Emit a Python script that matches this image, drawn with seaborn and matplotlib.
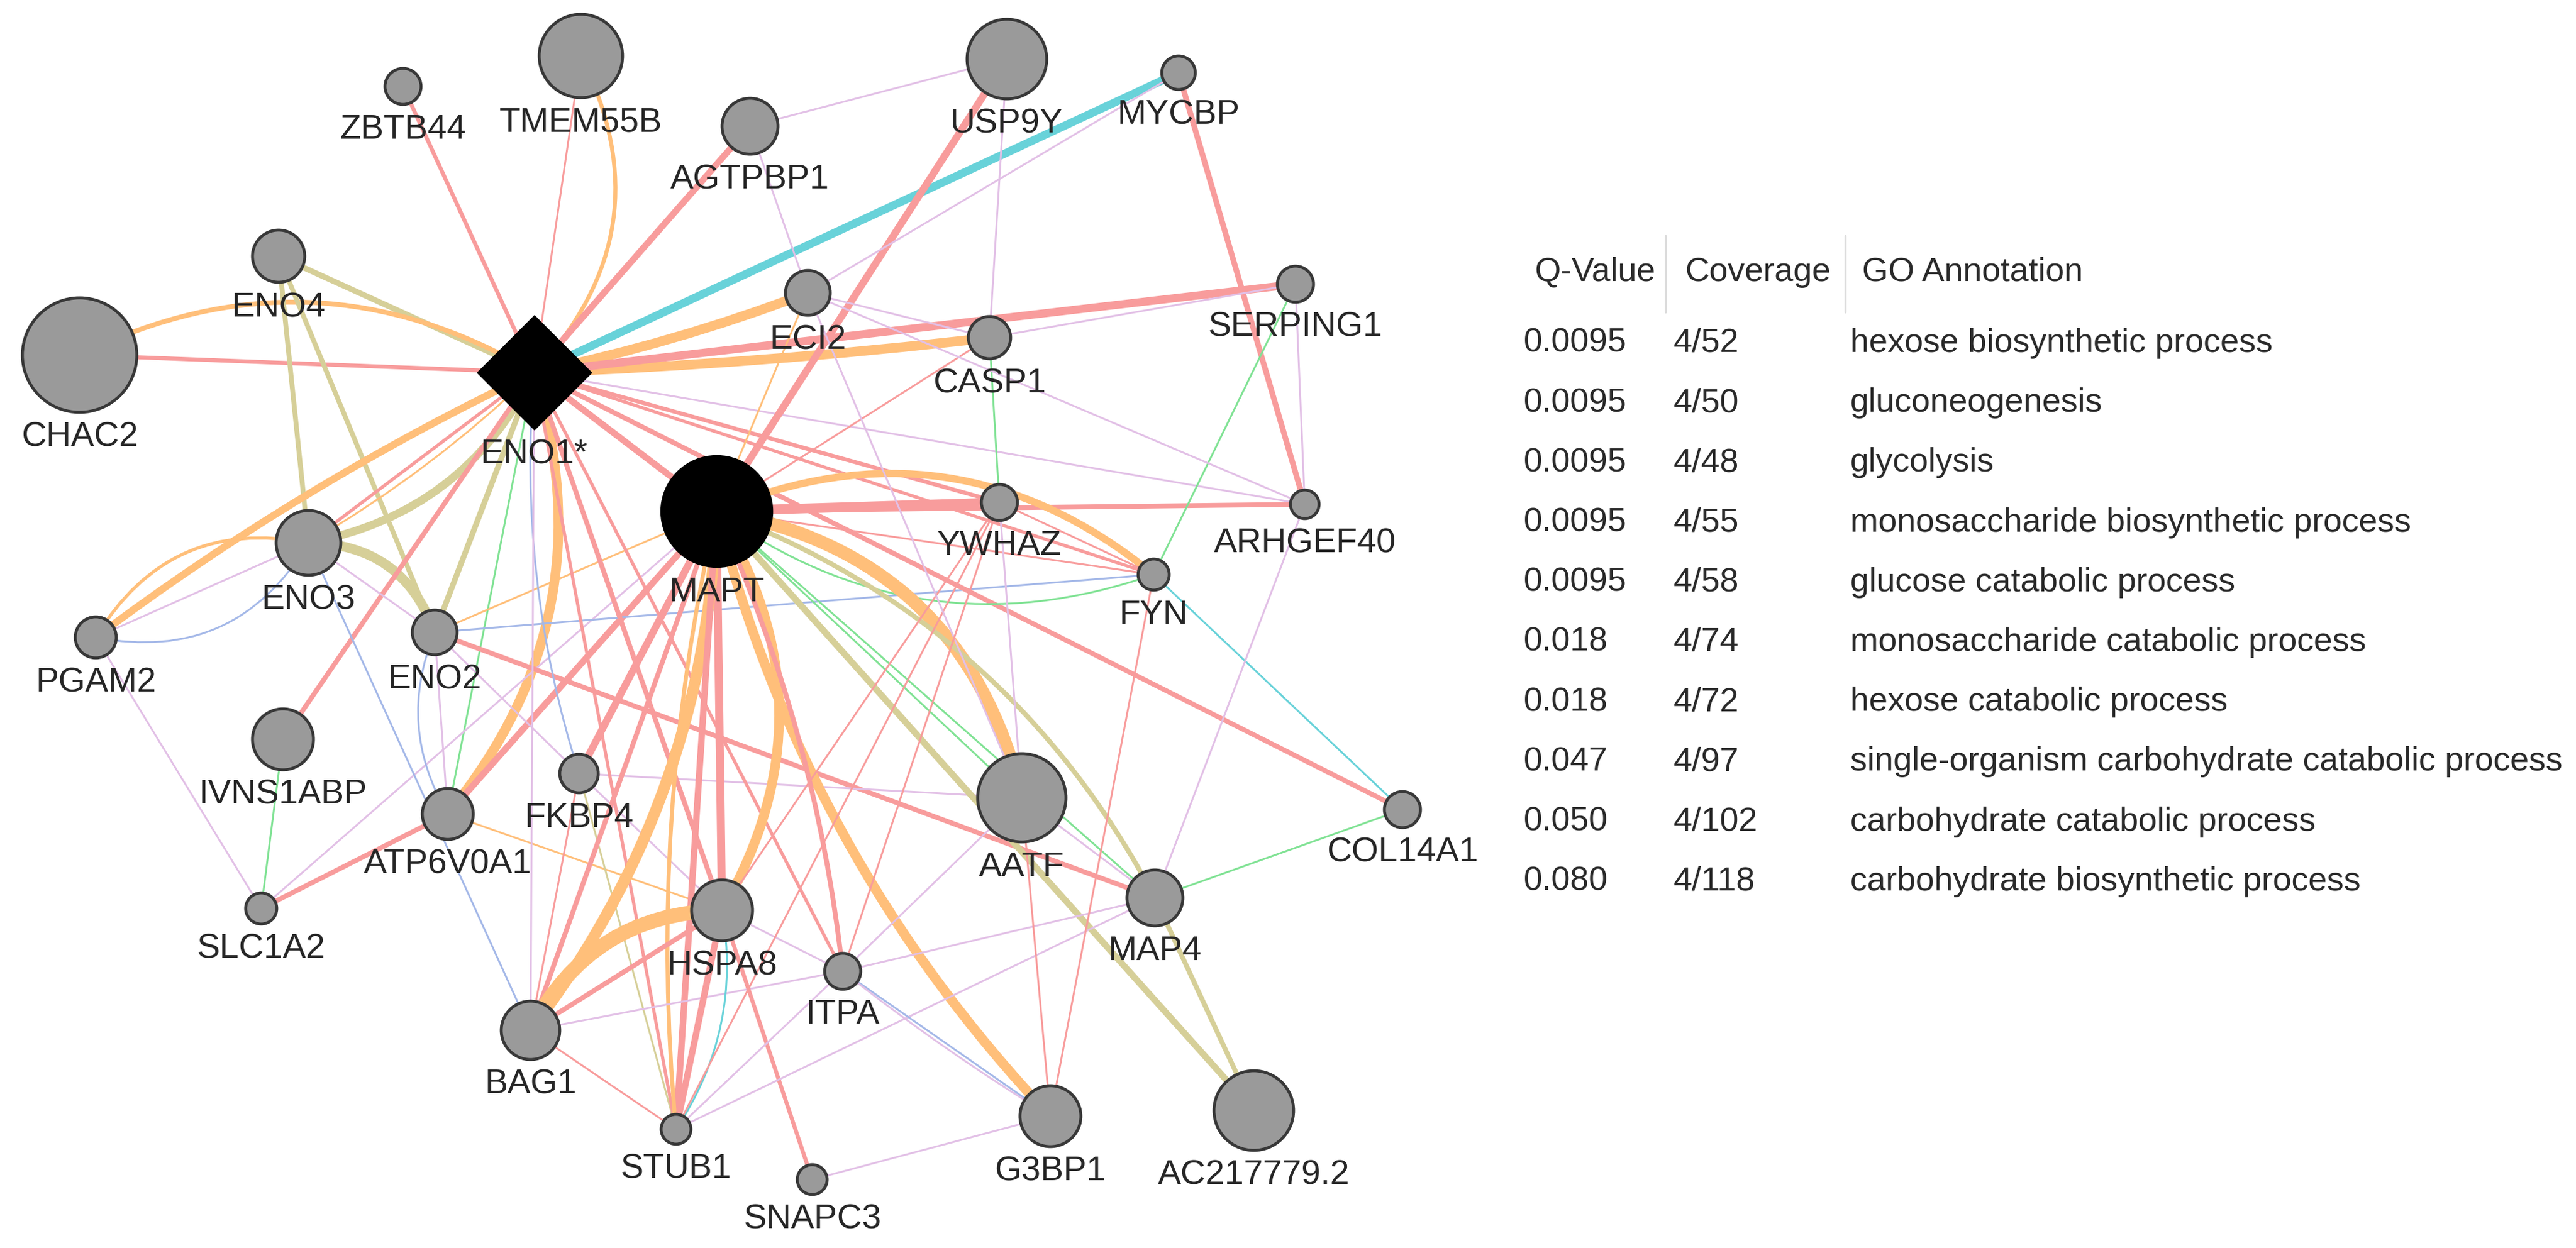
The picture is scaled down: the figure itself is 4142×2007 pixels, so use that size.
import pandas as pd
import seaborn as sns
import matplotlib.pyplot as plt
from matplotlib.patches import FancyArrowPatch

sns.set_style("white")
plt.rcParams['font.family'] = ['Liberation Sans', 'DejaVu Sans']

# ==========================================
# 1. data: nodes (layout in image pixels), edges, GO table
# ==========================================
node_names = ["ZBTB44", "TMEM55B", "AGTPBP1", "USP9Y", "MYCBP", "ENO4", "CHAC2",
              "ENO1*", "ECI2", "CASP1", "SERPING1", "ENO3", "MAPT", "YWHAZ",
              "ARHGEF40", "FYN", "PGAM2", "ENO2", "IVNS1ABP", "FKBP4", "ATP6V0A1",
              "AATF", "COL14A1", "SLC1A2", "HSPA8", "MAP4", "ITPA", "BAG1",
              "STUB1", "G3BP1", "AC217779.2", "SNAPC3"]
node_x = [648, 934, 1206, 1619, 1895, 448, 128,
          859, 1299, 1591, 2083, 496, 1152, 1607,
          2098, 1855, 154, 699, 455, 931, 720,
          1643, 2255, 420, 1161, 1857, 1355, 853,
          1087, 1689, 2016, 1306]
node_y = [140, 91, 204, 96, 118, 413, 572,
          600, 472, 544, 458, 874, 823, 809,
          812, 925, 1026, 1018, 1190, 1245, 1310,
          1284, 1303, 1462, 1465, 1445, 1563, 1658,
          1817, 1796, 1787, 1898]
node_r = [29, 67, 45, 64, 27, 42, 92,
          92, 36, 34, 29, 52, 90, 29,
          23, 25, 33, 36, 49, 31, 41,
          71, 29, 25, 49, 45, 29, 47,
          24, 49, 64, 24]
query_genes = ["ENO1*", "MAPT"]

edge_colors = {
    "phys": "#F89C9C",   # physical interactions
    "pred": "#FFBF7A",   # predicted
    "dom": "#D6CF98",    # shared protein domains
    "coexp": "#E2C0E6",  # co-expression
    "coloc": "#A4B8E8",  # co-localization
    "gen": "#80E294",    # genetic interactions
    "path": "#68D2D9",   # pathway
}

# source, target, type, width (px), curvature
edges = [
    ("ENO1*", "ZBTB44", "phys", 5, 0), ("ENO1*", "TMEM55B", "phys", 3, 0),
    ("ENO1*", "TMEM55B", "pred", 5, 0.35), ("ENO1*", "AGTPBP1", "phys", 8, 0),
    ("ENO1*", "MYCBP", "path", 10, 0), ("ENO1*", "ECI2", "pred", 12, 0.04),
    ("ENO1*", "CASP1", "pred", 12, 0.02), ("ENO1*", "SERPING1", "phys", 10, 0),
    ("ENO1*", "ENO4", "dom", 7, 0), ("ENO1*", "CHAC2", "phys", 5, 0),
    ("CHAC2", "ENO1*", "pred", 6, -0.27), ("ENO3", "ENO1*", "dom", 10, 0.25),
    ("ENO3", "ENO2", "dom", 12, -0.35), ("ENO4", "ENO3", "dom", 6, 0),
    ("ENO4", "ENO2", "dom", 6, 0), ("ENO1*", "ENO2", "dom", 7, 0),
    ("PGAM2", "ENO1*", "pred", 9, -0.05), ("PGAM2", "ENO3", "pred", 4, -0.35),
    ("PGAM2", "ENO3", "coexp", 3, 0), ("PGAM2", "ENO3", "coloc", 3, 0.35),
    ("PGAM2", "SLC1A2", "coexp", 3, 0), ("ENO3", "ENO1*", "phys", 4, 0),
    ("ENO3", "ENO1*", "pred", 3, 0.06), ("IVNS1ABP", "ENO1*", "phys", 6, 0),
    ("IVNS1ABP", "SLC1A2", "gen", 3, 0), ("ENO1*", "ATP6V0A1", "pred", 12, -0.27),
    ("ATP6V0A1", "ENO1*", "gen", 3, 0), ("ATP6V0A1", "SLC1A2", "phys", 6, 0),
    ("SLC1A2", "MAPT", "coexp", 3, 0), ("ATP6V0A1", "MAPT", "phys", 8, 0),
    ("ATP6V0A1", "HSPA8", "pred", 3, 0), ("ENO2", "ATP6V0A1", "coloc", 3, 0.25),
    ("ENO2", "ATP6V0A1", "coexp", 3, 0), ("ENO3", "BAG1", "coloc", 3, 0),
    ("ENO3", "ENO2", "coexp", 3, 0), ("ENO2", "FKBP4", "coexp", 3, 0),
    ("ENO2", "FYN", "coloc", 3, 0), ("ENO2", "MAPT", "pred", 3, 0),
    ("ENO2", "MAP4", "phys", 6, 0), ("FKBP4", "MAPT", "phys", 9, 0),
    ("FKBP4", "ENO1*", "coloc", 3, -0.1), ("FKBP4", "AATF", "coexp", 3, 0),
    ("FKBP4", "STUB1", "dom", 3, 0), ("FKBP4", "BAG1", "phys", 3, 0),
    ("FKBP4", "HSPA8", "coexp", 3, 0), ("ENO1*", "MAPT", "phys", 8, 0),
    ("ENO1*", "HSPA8", "phys", 6, 0), ("ENO1*", "ITPA", "phys", 4, 0),
    ("ENO1*", "STUB1", "phys", 4, 0), ("ENO1*", "YWHAZ", "phys", 5, 0),
    ("ENO1*", "FYN", "phys", 4, 0), ("ENO1*", "ARHGEF40", "coexp", 3, 0),
    ("ENO1*", "COL14A1", "phys", 6, 0), ("ENO1*", "BAG1", "coexp", 3, 0),
    ("MAPT", "USP9Y", "phys", 9, 0), ("MAPT", "YWHAZ", "phys", 12, 0),
    ("MAPT", "ARHGEF40", "phys", 6, 0), ("MAPT", "FYN", "pred", 9, -0.3),
    ("MAPT", "FYN", "gen", 3, 0.26), ("MAPT", "FYN", "phys", 3, 0),
    ("MAPT", "AATF", "pred", 16, -0.33), ("MAPT", "G3BP1", "pred", 12, 0.13),
    ("MAPT", "AC217779.2", "dom", 8, 0), ("MAPT", "MAP4", "dom", 6, -0.19),
    ("MAP4", "AC217779.2", "dom", 6, 0), ("MAPT", "MAP4", "gen", 3, 0),
    ("MAPT", "AATF", "gen", 3, 0), ("MAPT", "HSPA8", "phys", 10, 0),
    ("MAPT", "HSPA8", "pred", 12, -0.3), ("MAPT", "BAG1", "pred", 14, -0.16),
    ("MAPT", "BAG1", "phys", 6, 0), ("MAPT", "STUB1", "phys", 8, 0),
    ("MAPT", "STUB1", "pred", 5, 0.08), ("MAPT", "ITPA", "phys", 6, -0.08),
    ("MAPT", "CASP1", "phys", 3, 0), ("MAPT", "ECI2", "pred", 3, 0),
    ("BAG1", "HSPA8", "pred", 18, -0.3), ("BAG1", "HSPA8", "phys", 6, 0),
    ("BAG1", "STUB1", "phys", 3, 0), ("BAG1", "ITPA", "coexp", 3, 0),
    ("HSPA8", "STUB1", "phys", 8, 0), ("HSPA8", "STUB1", "path", 3, -0.2),
    ("HSPA8", "ITPA", "coexp", 3, 0), ("HSPA8", "SNAPC3", "phys", 5, 0),
    ("HSPA8", "YWHAZ", "phys", 3, 0), ("STUB1", "MAP4", "coexp", 3, 0),
    ("STUB1", "ITPA", "coexp", 3, 0), ("STUB1", "YWHAZ", "phys", 3, 0),
    ("ITPA", "MAP4", "coexp", 3, 0), ("ITPA", "AATF", "coexp", 3, 0),
    ("ITPA", "G3BP1", "coloc", 3, 0), ("ITPA", "G3BP1", "coexp", 3, 0.03),
    ("SNAPC3", "G3BP1", "coexp", 3, 0), ("AATF", "G3BP1", "phys", 3, 0),
    ("AATF", "MAP4", "coexp", 3, 0), ("AATF", "YWHAZ", "coexp", 3, 0),
    ("FYN", "G3BP1", "phys", 3, 0), ("FYN", "COL14A1", "path", 3, 0),
    ("COL14A1", "MAP4", "gen", 3, 0), ("ARHGEF40", "MAP4", "coexp", 3, 0),
    ("MYCBP", "ARHGEF40", "phys", 7, 0), ("SERPING1", "FYN", "gen", 3, 0),
    ("SERPING1", "ARHGEF40", "coexp", 3, 0), ("SERPING1", "CASP1", "coexp", 3, 0),
    ("CASP1", "YWHAZ", "gen", 3, 0), ("CASP1", "USP9Y", "coexp", 3, 0),
    ("ECI2", "ARHGEF40", "coexp", 3, 0), ("ECI2", "CASP1", "coexp", 3, 0),
    ("ECI2", "AATF", "coexp", 3, 0), ("ECI2", "MYCBP", "coexp", 3, 0),
    ("AGTPBP1", "USP9Y", "coexp", 3, 0), ("AGTPBP1", "ECI2", "coexp", 3, 0),
    ("YWHAZ", "FYN", "phys", 3, 0), ("YWHAZ", "ITPA", "phys", 3, 0),
]

q_values = ["0.0095", "0.0095", "0.0095", "0.0095", "0.0095",
            "0.018", "0.018", "0.047", "0.050", "0.080"]
coverage = ["4/52", "4/50", "4/48", "4/55", "4/58",
            "4/74", "4/72", "4/97", "4/102", "4/118"]
go_terms = ["hexose biosynthetic process", "gluconeogenesis", "glycolysis",
            "monosaccharide biosynthetic process", "glucose catabolic process",
            "monosaccharide catabolic process", "hexose catabolic process",
            "single-organism carbohydrate catabolic process",
            "carbohydrate catabolic process", "carbohydrate biosynthetic process"]
table_header = ["Q-Value", "Coverage", "GO Annotation"]

df_nodes = pd.DataFrame({"name": node_names, "x": node_x, "y": node_y, "r": node_r})
pos = {n: (x, y) for n, x, y in zip(node_names, node_x, node_y)}

# ==========================================
# 2. figure: axes in image pixel units
# ==========================================
W, H, DPI = 4142, 2008, 200
px2pt = 72 / DPI
fig = plt.figure(figsize=(W / DPI, H / DPI), dpi=DPI)
ax = fig.add_axes([0, 0, 1, 1])

# edges (thicker ones scaled up a bit, thin ones kept as hairlines)
for src, dst, kind, w, rad in edges:
    lw_px = w if w <= 3 else w * 1.3
    patch = FancyArrowPatch(pos[src], pos[dst], arrowstyle="-",
                            connectionstyle=f"arc3,rad={rad}",
                            shrinkA=0, shrinkB=0, lw=lw_px * px2pt,
                            color=edge_colors[kind], zorder=1,
                            capstyle="round")
    ax.add_patch(patch)

# nodes
gray = df_nodes[~df_nodes["name"].isin(query_genes)]
sns.scatterplot(data=gray, x="x", y="y", s=(2 * gray["r"] * px2pt) ** 2,
                color="#9a9a9a", edgecolor="#383838", linewidth=1.7,
                ax=ax, zorder=3, legend=False)
mapt = df_nodes[df_nodes["name"] == "MAPT"]
sns.scatterplot(data=mapt, x="x", y="y", s=(2 * mapt["r"] * px2pt) ** 2,
                color="black", edgecolor="black", linewidth=0.5,
                ax=ax, zorder=3, legend=False)
eno1 = df_nodes[df_nodes["name"] == "ENO1*"]
sns.scatterplot(data=eno1, x="x", y="y", marker="D",
                s=(2 * eno1["r"] * px2pt / 1.414) ** 2,
                color="black", edgecolor="black", linewidth=0.5,
                ax=ax, zorder=3, legend=False)
ax.set_xlim(0, W)
ax.set_ylim(H, 0)
ax.axis("off")

for _, row in df_nodes.iterrows():
    ax.text(row["x"], row["y"] + row["r"] + 40, row["name"], ha="center",
            va="center", fontsize=20, color="#262626", zorder=4)

# ==========================================
# 3. GO annotation table
# ==========================================
tcol = "#2a2a2a"
for txt, x in zip(table_header, [2467, 2709, 2994]):
    ax.text(x, 438, txt, ha="left", va="center", fontsize=19.5, color=tcol)
for sx in [2678, 2967]:
    ax.plot([sx, sx], [380, 503], color="#dcdcdc", lw=1.2)
for i, (q, c, g) in enumerate(zip(q_values, coverage, go_terms)):
    y = 552 + 96.2 * i
    ax.text(2450, y, q, ha="left", va="center", fontsize=19.5, color=tcol)
    ax.text(2691, y, c, ha="left", va="center", fontsize=19.5, color=tcol)
    ax.text(2975, y, g, ha="left", va="center", fontsize=19.5, color=tcol)

plt.savefig("out.png", dpi=DPI)
